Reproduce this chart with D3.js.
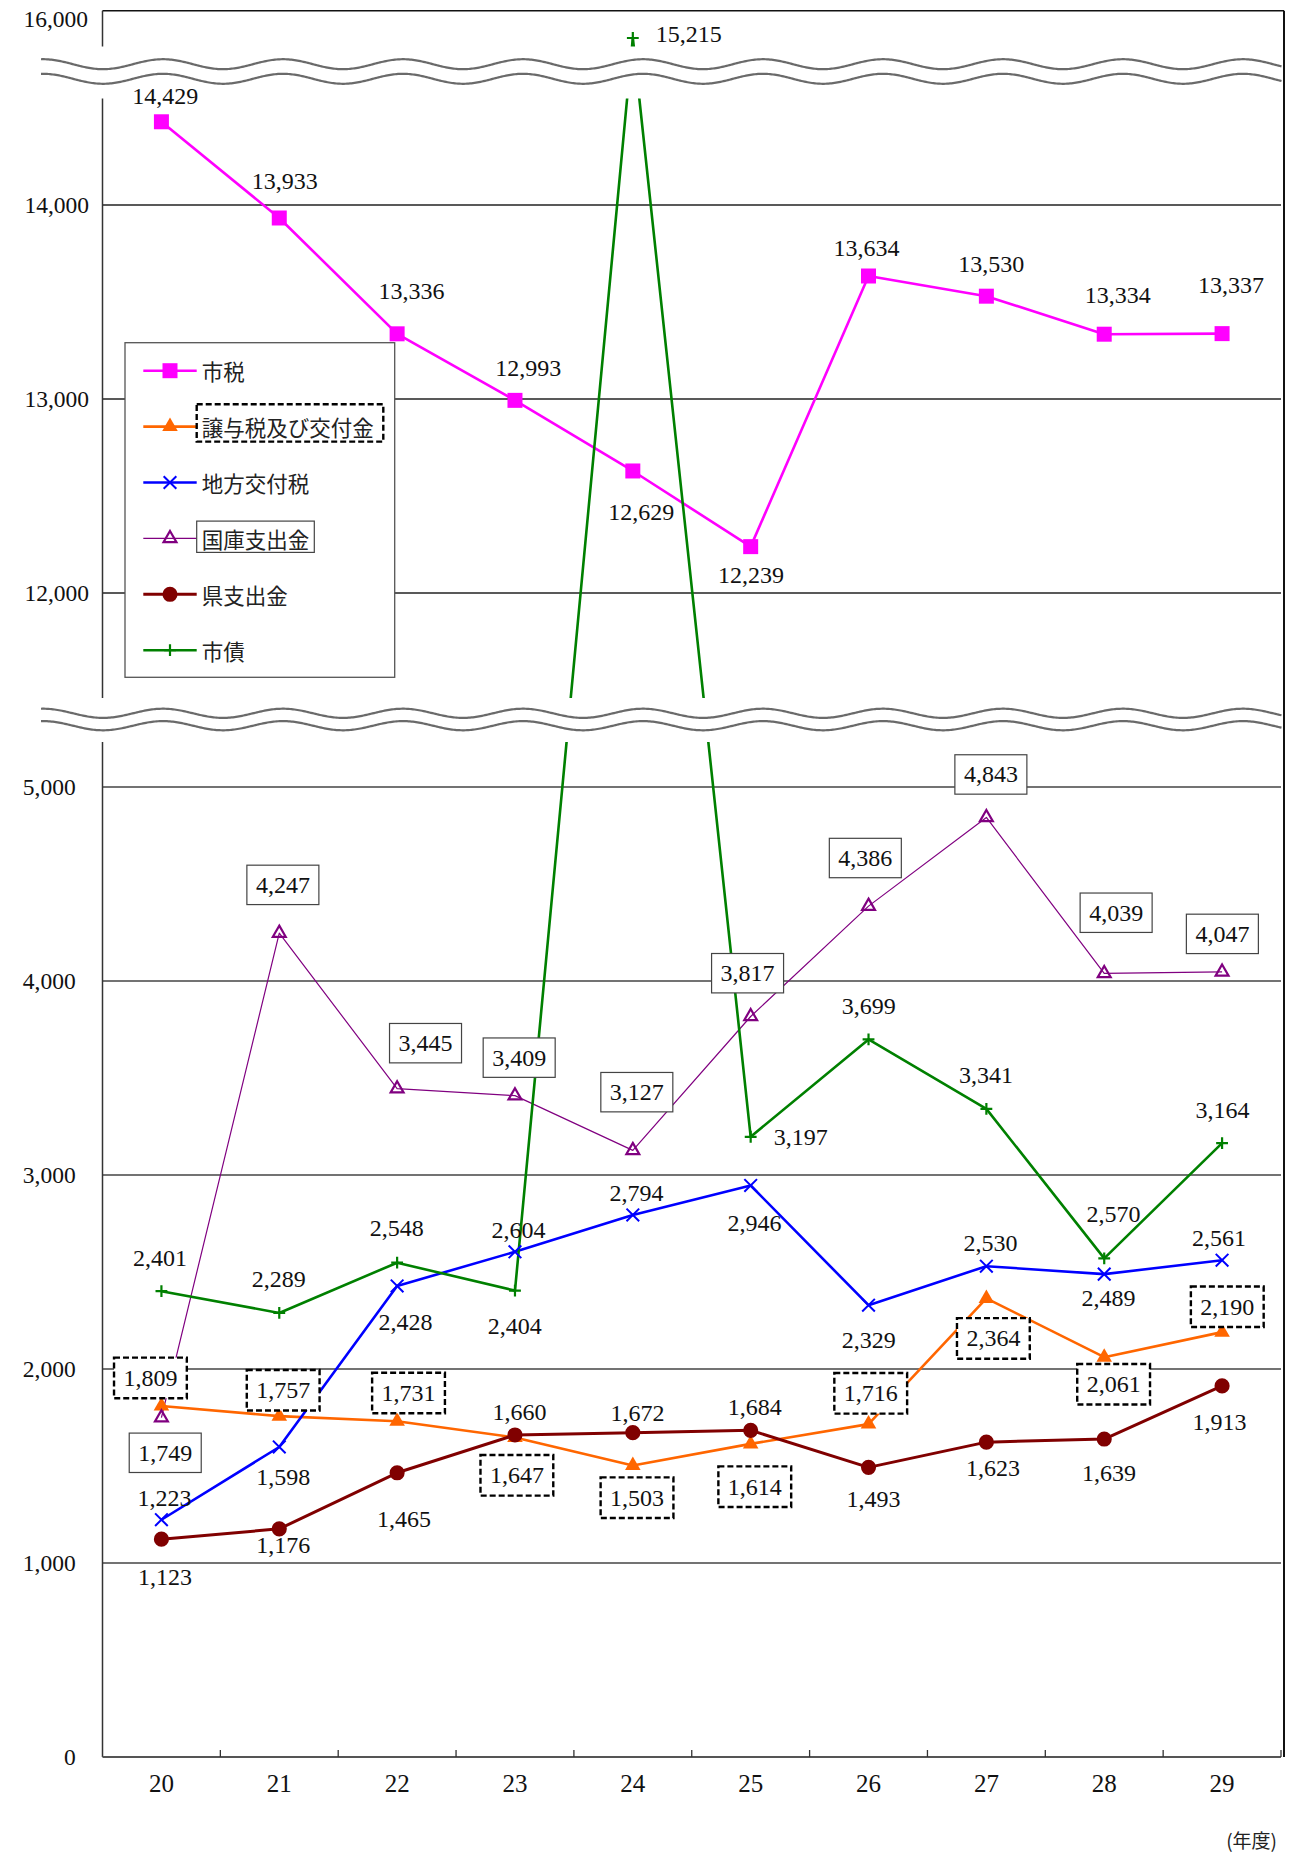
<!DOCTYPE html>
<html>
<head>
<meta charset="utf-8">
<script src="https://cdn.jsdelivr.net/npm/d3@7"></script>
<style>
  html, body { margin: 0; padding: 0; background: #fff; }
  svg { display: block; }
</style>
</head>
<body>
<svg id="chart" width="1290" height="1855"></svg>
<script>
// ---- data (単位: 百万円) ----
const years = ["20", "21", "22", "23", "24", "25", "26", "27", "28", "29"];
const seriesNames = ["市税", "譲与税及び交付金", "地方交付税", "国庫支出金", "県支出金", "市債"];

const shizei       = [14429, 13933, 13336, 12993, 12629, 12239, 13634, 13530, 13334, 13337];
const jouyozei     = [1809, 1757, 1731, 1647, 1503, 1614, 1716, 2364, 2061, 2190];
const chihoKofuzei = [1223, 1598, 2428, 2604, 2794, 2946, 2329, 2530, 2489, 2561];
const kokkoShishutsu = [1749, 4247, 3445, 3409, 3127, 3817, 4386, 4843, 4039, 4047];
const kenShishutsu = [1123, 1176, 1465, 1660, 1672, 1684, 1493, 1623, 1639, 1913];
const shisai       = [2401, 2289, 2548, 2404, 15215, 3197, 3699, 3341, 2570, 3164];

const lowerTicks = [0, 1000, 2000, 3000, 4000, 5000];
const upperTicks = [12000, 13000, 14000];
const topTick = 16000;

// ---- label placement (offset of label centre from its point, px) ----
const shizeiLabelPos   = [[3.7,-25.8],[5.5,-37.3],[14.4,-42.4],[13.3,-32.3],[8.4,40.9],[0.3,28.6],[-2.1,-27.9],[4.9,-32.1],[13.4,-38.9],[9,-48.1]];
const jouyozeiLabelPos = [[-11,-28.1],[3.9,-25.9],[11.4,-28.2],[1.9,37.8],[4.2,32.3],[4.1,42.8],[2.2,-30.8],[7,40],[9.4,27.1],[5.2,-25.4]];
const chihoLabelPos    = [[3.1,-21.5],[4,29.7],[8.3,35.8],[3.5,-21.8],[3.7,-22],[3.8,37.4],[0.2,34.8],[4,-22.8],[4.2,24.2],[-3.2,-22.4]];
const kokkoLabelPos    = [[3.8,35.1],[3.6,-48.2],[28.4,-45.5],[4.2,-38],[4,-58.2],[-3.1,-43.3],[-3.2,-48.1],[4.5,-43],[11.9,-60.7],[0.3,-38]];
const kenLabelPos      = [[3.6,38.3],[4,16.4],[6.8,46.2],[4.5,-23.3],[4.6,-19.4],[4.1,-23.6],[5,31.6],[6.6,25.5],[4.7,33.6],[-2.5,35.8]];
const shisaiLabelPos   = [[-1.4,-33.5],[-0.6,-33.9],[-0.3,-34.3],[-0.3,35.1],[56,-4.2],[50,0.6],[0.3,-33.4],[-0.3,-33.7],[9.2,-44.1],[0.3,-33.1]];

// ---- custom stroke symbols ----
const symTimes = { draw(ctx, size) { const r = Math.sqrt(size) / 2;
  ctx.moveTo(-r, -r); ctx.lineTo(r, r); ctx.moveTo(r, -r); ctx.lineTo(-r, r); } };
const symPlus = { draw(ctx, size) { const r = Math.sqrt(size) / 2;
  ctx.moveTo(-r, 0); ctx.lineTo(r, 0); ctx.moveTo(0, -r); ctx.lineTo(0, r); } };

const series = [
  { name: seriesNames[0], values: shizei, pos: shizeiLabelPos, color: "#FF00FF", width: 2.6,
    symbol: d3.symbolSquare, size: 225, fill: true, box: "none" },
  { name: seriesNames[1], values: jouyozei, pos: jouyozeiLabelPos, color: "#FF6600", width: 2.6,
    symbol: d3.symbolTriangle, size: 105, fill: true, box: "dashed" },
  { name: seriesNames[2], values: chihoKofuzei, pos: chihoLabelPos, color: "#0000FF", width: 2.6,
    symbol: symTimes, size: 160, fill: false, markStroke: 2, box: "none" },
  { name: seriesNames[3], values: kokkoShishutsu, pos: kokkoLabelPos, color: "#800080", width: 1.2,
    symbol: d3.symbolTriangle, size: 72, fill: false, markStroke: 2.2, box: "solid" },
  { name: seriesNames[4], values: kenShishutsu, pos: kenLabelPos, color: "#800000", width: 3,
    symbol: d3.symbolCircle, size: 180, fill: true, box: "none" },
  { name: seriesNames[5], values: shisai, pos: shisaiLabelPos, color: "#008000", width: 2.6,
    symbol: symPlus, size: 140, fill: false, markStroke: 2.2, box: "none" }
];

// ---- scales ----
const plotLeft = 102.5, plotRight = 1281;
const yZero = 1757, yFive = 787;
const k = (yZero - yFive) / 5000;           // px per unit on the value axis
const x = d3.scaleBand().domain(years).range([plotLeft, plotRight]);
const cx = d => x(d) + x.bandwidth() / 2;

// broken value axis: lower part 0-5,300, middle part 11,300-14,600, top strip up to 16,000
const y = d3.scaleLinear()
  .domain([0, 5300, 11300, 14600, 15215, 16000])
  .range([yZero, yZero - 5300 * k, yZero - 5300 * k, yZero - 8600 * k, 38, 10.7]);

const NUM_FONT = "'Liberation Serif', 'Times New Roman', 'DejaVu Serif', serif";
const JP_FONT = "'Noto Sans CJK JP', 'Noto Sans', sans-serif";
const fmt = d3.format(",");

const svg = d3.select("#chart");
svg.append("rect").attr("width", 1290).attr("height", 1855).attr("fill", "#fff");

// ---- grid lines ----
const grid = svg.append("g");
grid.selectAll("line.g").data(lowerTicks.filter(v => v > 0).concat(upperTicks)).join("line")
  .attr("x1", plotLeft).attr("x2", plotRight)
  .attr("y1", d => y(d)).attr("y2", d => y(d))
  .attr("stroke", d => d > 10000 ? "#222" : "#444").attr("stroke-width", 1.5);
// top frame line
grid.append("line").attr("x1", plotLeft).attr("x2", plotRight + 3)
  .attr("y1", y(topTick)).attr("y2", y(topTick)).attr("stroke", "#111").attr("stroke-width", 1.5);
// right frame
grid.append("line").attr("x1", plotRight + 3).attr("x2", plotRight + 3)
  .attr("y1", y(topTick)).attr("y2", yZero).attr("stroke", "#111").attr("stroke-width", 2);

// ---- axes ----
svg.append("line").attr("x1", plotLeft).attr("x2", plotLeft)
  .attr("y1", y(topTick)).attr("y2", yZero).attr("stroke", "#333").attr("stroke-width", 1.5);
svg.append("line").attr("x1", plotLeft).attr("x2", plotRight)
  .attr("y1", yZero).attr("y2", yZero).attr("stroke", "#555").attr("stroke-width", 2.2);
// category boundary ticks (pointing up)
svg.selectAll("line.xt").data(years.slice(1).map(d => x(d)).concat([plotRight])).join("line")
  .attr("x1", d => d).attr("x2", d => d).attr("y1", yZero).attr("y2", yZero - 7)
  .attr("stroke", "#333").attr("stroke-width", 1.3);

// ---- legend ----
const lg = svg.append("g");
lg.append("rect").attr("x", 125).attr("y", 342.7).attr("width", 269.7).attr("height", 334.6)
  .attr("fill", "#fff").attr("stroke", "#555").attr("stroke-width", 1.3);
const rowY = i => 370.7 + i * 55.9;
series.forEach((s, i) => {
  const ry = rowY(i);
  lg.append("line").attr("x1", 143.3).attr("x2", 196.7).attr("y1", ry).attr("y2", ry)
    .attr("stroke", s.color).attr("stroke-width", s.width);
  lg.append("path").attr("transform", `translate(170,${ry})`)
    .attr("d", d3.symbol().type(s.symbol).size(s.size)())
    .attr("fill", s.fill ? s.color : "none")
    .attr("stroke", s.fill ? "none" : s.color).attr("stroke-width", s.markStroke || 0);
  if (s.box === "dashed") {
    lg.append("rect").attr("x", 196.7).attr("y", ry - 22.3).attr("width", 186.6).attr("height", 37.3)
      .attr("fill", "#fff").attr("stroke", "#000").attr("stroke-width", 2.4).attr("stroke-dasharray", "6,3");
  } else if (s.box === "solid") {
    lg.append("rect").attr("x", 196.7).attr("y", ry - 17.3).attr("width", 117.6).attr("height", 31.3)
      .attr("fill", "#fff").attr("stroke", "#444").attr("stroke-width", 1.2);
  }
  lg.append("text").attr("x", 201.7).attr("y", ry).attr("dominant-baseline", "central")
    .attr("font-family", JP_FONT).attr("font-size", 21.5).attr("fill", "#222").text(s.name);
});

// ---- series lines and markers ----
const line = d3.line().x((v, i) => cx(years[i])).y(v => y(v));
const lines = svg.append("g");
series.forEach(s => {
  lines.append("path").attr("d", line(s.values)).attr("fill", "none")
    .attr("stroke", s.color).attr("stroke-width", s.width).attr("stroke-linejoin", "round");
});
series.forEach(s => {
  lines.append("g").selectAll("path").data(s.values).join("path")
    .attr("transform", (v, i) => `translate(${cx(years[i])},${y(v)})`)
    .attr("d", d3.symbol().type(s.symbol).size(s.size)())
    .attr("fill", s.fill ? s.color : "none")
    .attr("stroke", s.fill ? "none" : s.color).attr("stroke-width", s.markStroke || 0);
});

// ---- axis break marks ----
const breaks = [
  { top: 46.5, bottom: 98.5, waves: [64.2, 78.8], amp: 5 },
  { top: 698, bottom: 742, waves: [713.3, 725.7], amp: 4.6 }
];
const waveX = d3.range(41, 1282.5, 1.5);
const wave = (c, a) => d3.line().x(px => px).y(px => c - a * Math.cos(2 * Math.PI * (px - 163) / 120))(waveX);
breaks.forEach(b => {
  svg.append("rect").attr("x", 41).attr("y", b.top).attr("width", 1282 - 41).attr("height", b.bottom - b.top)
    .attr("fill", "#fff");
  b.waves.forEach(c => {
    svg.append("path").attr("d", wave(c, b.amp)).attr("fill", "none")
      .attr("stroke", "#6a6a6a").attr("stroke-width", 2.2);
  });
});

// ---- tick labels ----
const TICK_FS = 23.5;
svg.append("g").selectAll("text").data(lowerTicks).join("text")
  .attr("x", 75.7).attr("y", d => y(d) + 0.33 * TICK_FS).attr("text-anchor", "end")
  .attr("font-family", NUM_FONT).attr("font-size", TICK_FS).attr("fill", "#111").text(d => fmt(d));
svg.append("g").selectAll("text").data(upperTicks).join("text")
  .attr("x", 89).attr("y", d => y(d) + 0.33 * TICK_FS).attr("text-anchor", "end")
  .attr("font-family", NUM_FONT).attr("font-size", TICK_FS).attr("fill", "#111").text(d => fmt(d));
svg.append("text").attr("x", 88).attr("y", y(topTick) + 8.5 + 0.33 * TICK_FS).attr("text-anchor", "end")
  .attr("font-family", NUM_FONT).attr("font-size", TICK_FS).attr("fill", "#111").text(fmt(topTick));

const XFS = 25;
svg.append("g").selectAll("text").data(years).join("text")
  .attr("x", d => cx(d)).attr("y", 1784 + 0.33 * XFS).attr("text-anchor", "middle")
  .attr("font-family", NUM_FONT).attr("font-size", XFS).attr("fill", "#111").text(d => d);
svg.append("text").attr("x", 1277).attr("y", 1839).attr("dominant-baseline", "central")
  .attr("text-anchor", "end").attr("font-family", JP_FONT).attr("font-size", 19).attr("fill", "#222")
  .text("(年度)");

// ---- data labels ----
const LFS = 24;
const labels = svg.append("g");
series.forEach(s => {
  s.values.forEach((v, i) => {
    const lx = cx(years[i]) + s.pos[i][0];
    const ly = y(v) + s.pos[i][1];
    if (s.box === "dashed") {
      labels.append("rect").attr("x", lx - 36.4).attr("y", ly - 20.3).attr("width", 72.8).attr("height", 40.6)
        .attr("fill", "#fff").attr("stroke", "#000").attr("stroke-width", 2.4).attr("stroke-dasharray", "6,3");
    } else if (s.box === "solid") {
      labels.append("rect").attr("x", lx - 36).attr("y", ly - 19.7).attr("width", 72).attr("height", 39.4)
        .attr("fill", "#fff").attr("stroke", "#444").attr("stroke-width", 1.2);
    }
    labels.append("text").attr("x", lx).attr("y", ly + 0.33 * LFS).attr("text-anchor", "middle")
      .attr("font-family", NUM_FONT).attr("font-size", LFS).attr("fill", "#111").text(fmt(v));
  });
});
</script>
</body>
</html>
